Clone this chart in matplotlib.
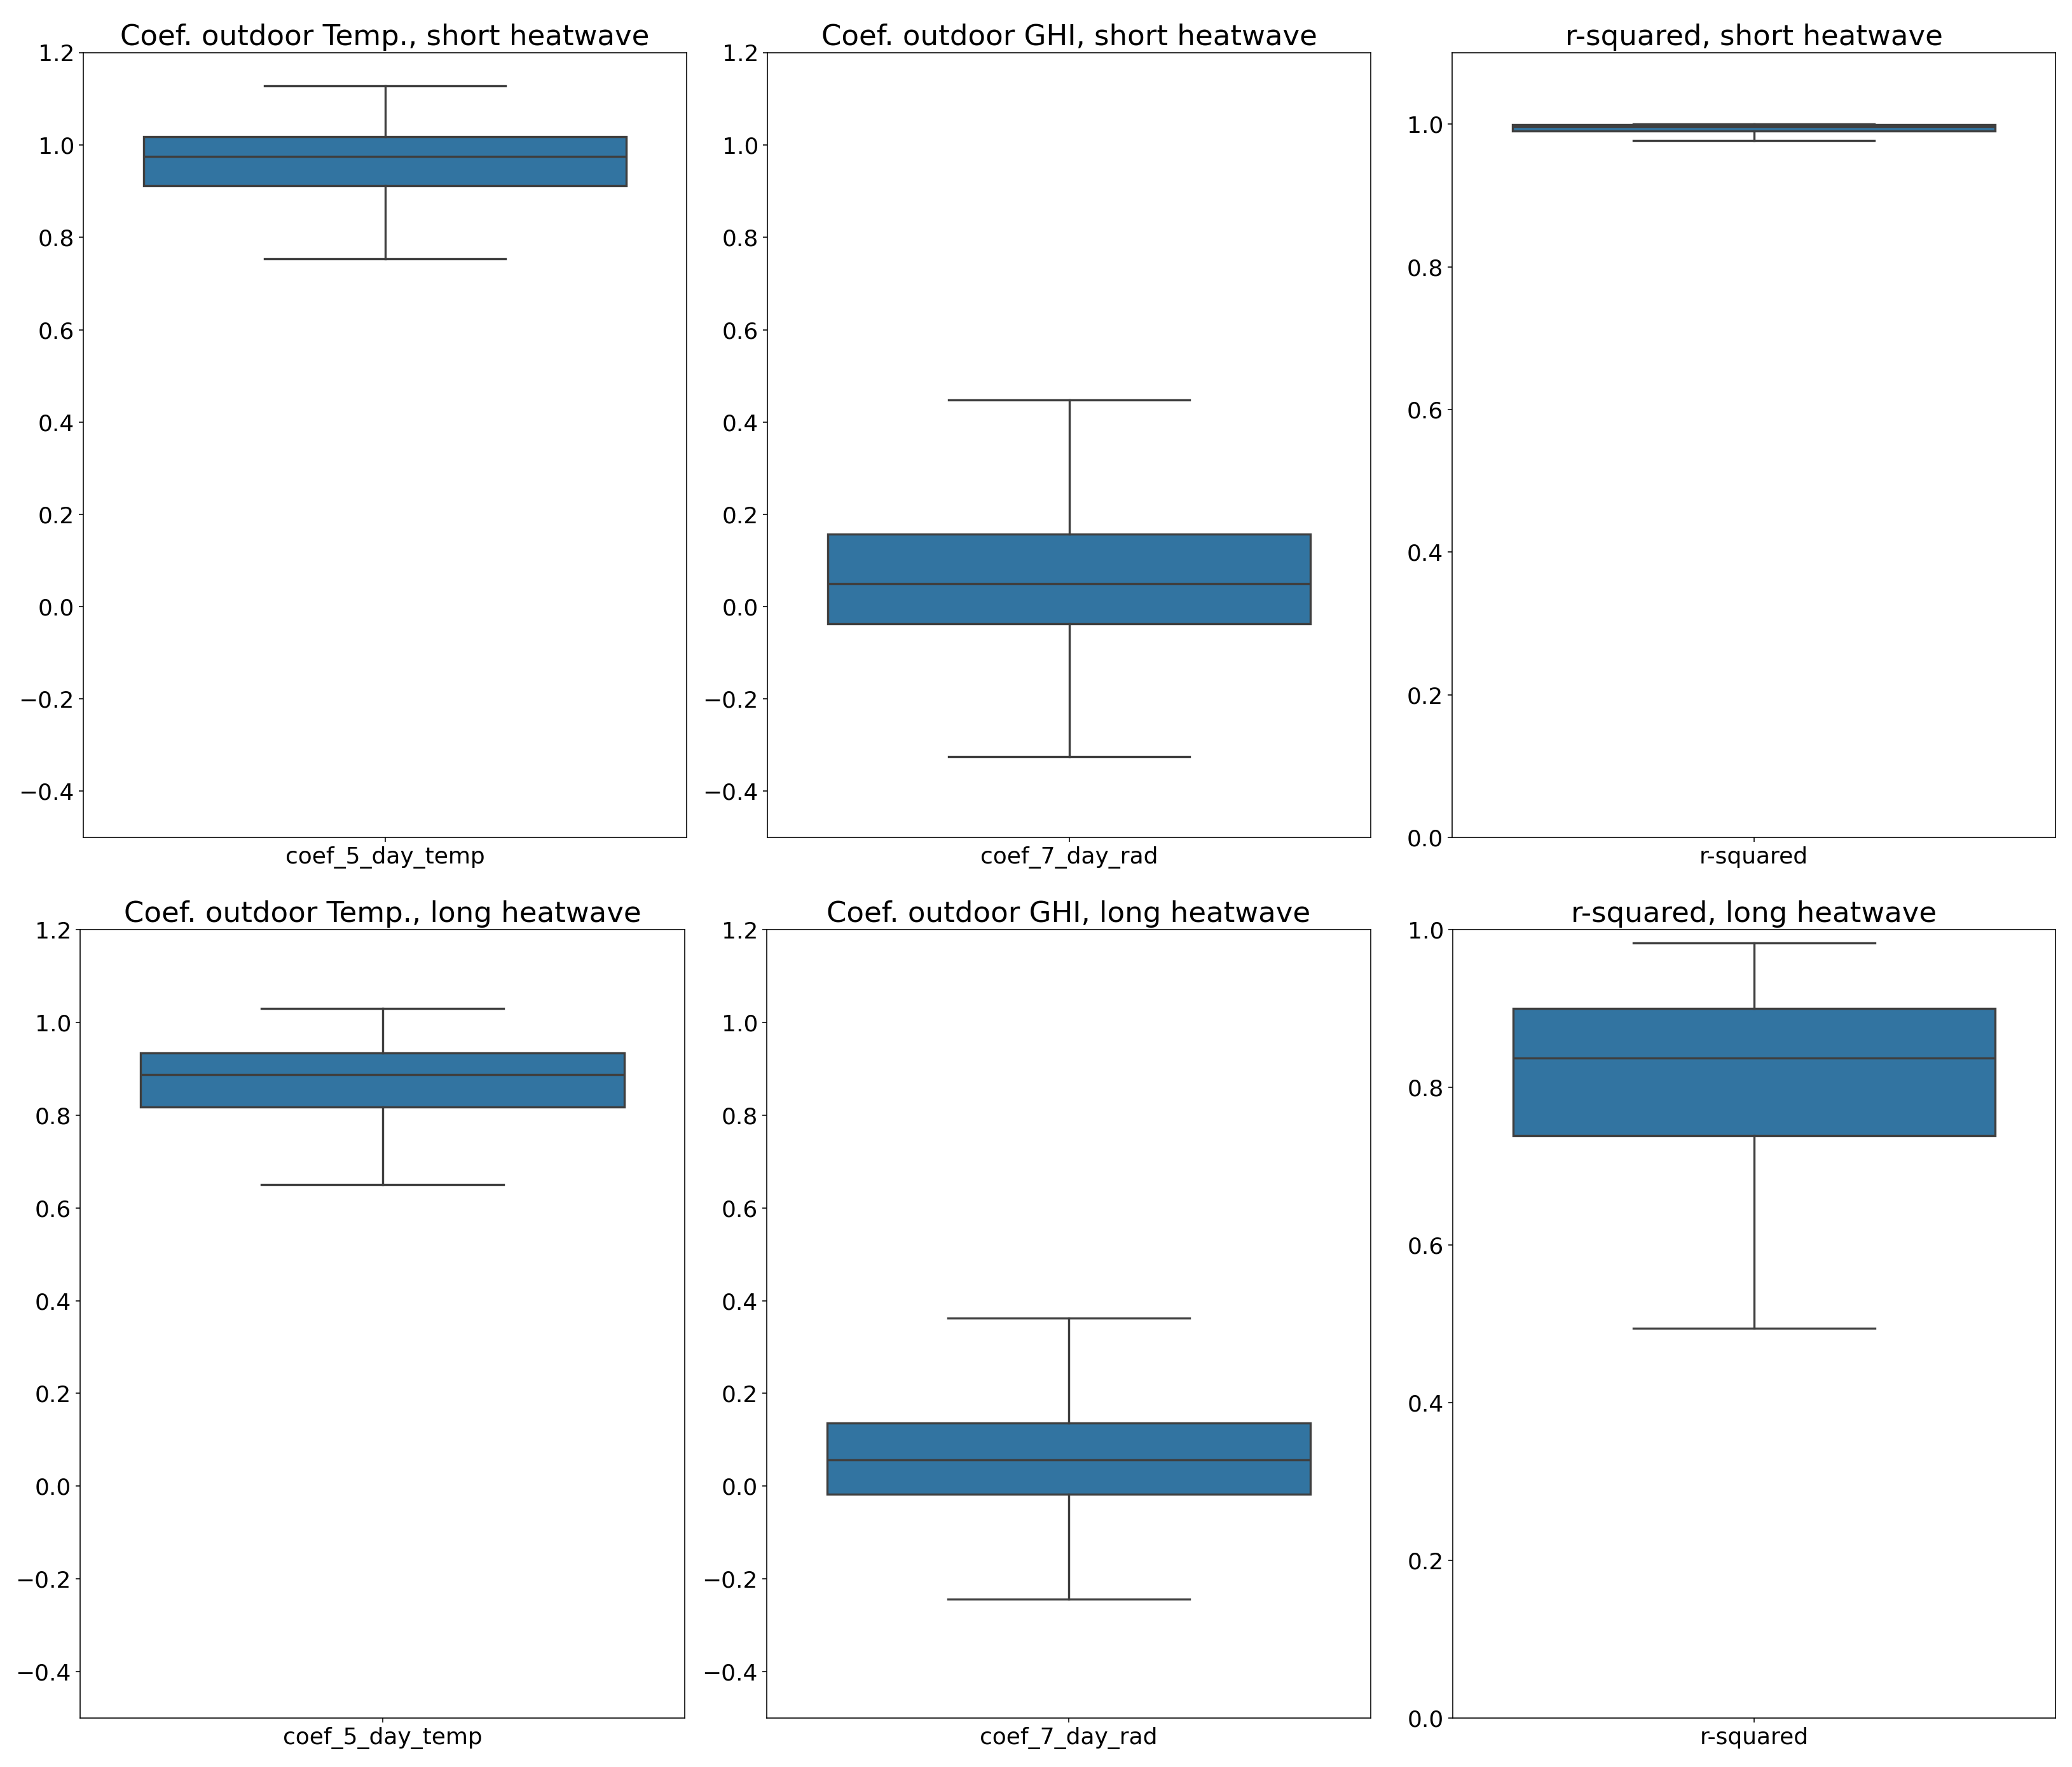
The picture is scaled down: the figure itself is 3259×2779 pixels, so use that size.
import numpy as np
import matplotlib
matplotlib.use('Agg')
import matplotlib.pyplot as plt

#%% Data (box stats per panel)
titles = ['Coef. outdoor Temp., short heatwave', 'Coef. outdoor GHI, short heatwave', 'r-squared, short heatwave',
          'Coef. outdoor Temp., long heatwave', 'Coef. outdoor GHI, long heatwave', 'r-squared, long heatwave']
labels = ['coef_5_day_temp', 'coef_7_day_rad', 'r-squared',
          'coef_5_day_temp', 'coef_7_day_rad', 'r-squared']
whislo = [0.754, -0.325, 0.977, 0.650, -0.244, 0.494]
q1 = [0.912, -0.037, 0.990, 0.818, -0.018, 0.739]
med = [0.975, 0.049, 0.997, 0.888, 0.057, 0.837]
q3 = [1.018, 0.157, 0.999, 0.934, 0.136, 0.900]
whishi = [1.128, 0.448, 1.000, 1.030, 0.363, 0.983]
ylims = [(-0.5, 1.2), (-0.5, 1.2), (0.0, 1.1), (-0.5, 1.2), (-0.5, 1.2), (0.0, 1.0)]

#%% Layout (pixel boxes of the axes in the reference)
W, H = 3259, 2779
boxes = [(131, 83, 1080, 1317), (1207, 83, 2156, 1317), (2284, 83, 3233, 1317),
         (126, 1462, 1077, 2702), (1206, 1462, 2156, 2702), (2285, 1462, 3233, 2702)]

fig = plt.figure(figsize=(W / 144, H / 144), dpi=144)
edge = '#3f3f3f'
fill = '#3274a1'

for i in range(6):
    x0, y0, x1, y1 = boxes[i]
    ax = fig.add_axes([x0 / W, 1 - y1 / H, (x1 - x0) / W, (y1 - y0) / H])
    st = {'whislo': whislo[i], 'q1': q1[i], 'med': med[i], 'q3': q3[i],
          'whishi': whishi[i], 'fliers': [], 'label': labels[i]}
    ax.bxp([st], positions=[0], widths=0.8, capwidths=0.4, patch_artist=True,
           showfliers=False,
           boxprops=dict(facecolor=fill, edgecolor=edge, linewidth=1.7),
           whiskerprops=dict(color=edge, linewidth=1.7),
           capprops=dict(color=edge, linewidth=1.7),
           medianprops=dict(color=edge, linewidth=1.7))
    ax.set_xlim(-0.5, 0.5)
    ax.set_ylim(*ylims[i])
    lo, hi = ylims[i]
    ax.set_yticks(np.round(np.arange(-0.4 if lo < 0 else 0.0, hi + 0.001, 0.2), 1))
    ax.set_xticks([0])
    ax.set_xticklabels([labels[i]])
    ax.tick_params(labelsize=18)
    ax.set_title(titles[i], fontsize=22.5)

fig.savefig('out.png', dpi=144)
